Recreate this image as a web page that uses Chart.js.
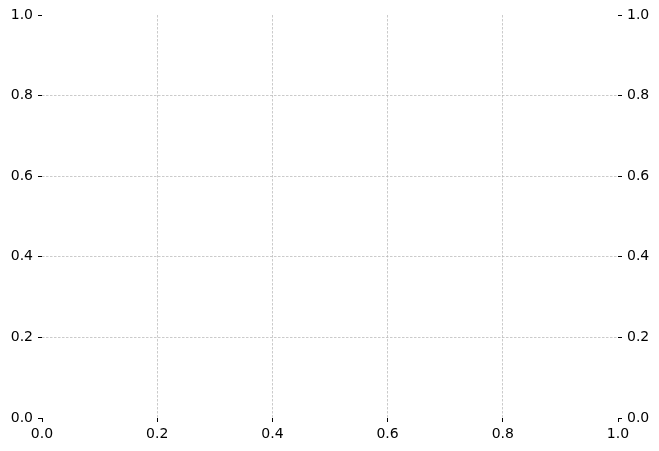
<!DOCTYPE html>
<html>
<head>
<meta charset="utf-8">
<script src="https://cdn.jsdelivr.net/npm/chart.js@4/dist/chart.umd.min.js"></script>
<style>
  html, body { margin: 0; padding: 0; background: #fff; }
  #wrap { width: 659px; height: 451px; }
</style>
</head>
<body>
<div id="wrap"><canvas id="plot" width="659" height="451"></canvas></div>
<script>
// axis ranges and tick positions (empty plot, twin y axes)
const xTicks = [0, 0.2, 0.4, 0.6, 0.8, 1.0];
const yLeftTicks = [0, 0.2, 0.4, 0.6, 0.8, 1.0];
const yRightTicks = [0, 0.2, 0.4, 0.6, 0.8, 1.0];
const seriesValues = [];

const font = { family: "DejaVu Sans", size: 14 };

// hide grid lines at the edges of the axes, like matplotlib does here
function innerGrid(ctx) {
  const v = ctx.tick ? ctx.tick.value : null;
  if (v === 0 || v === 1) return "rgba(0,0,0,0)";
  return "#b4b4b4";
}

function fixedTicks(list) {
  return function (scale) {
    scale.ticks = list.map((v) => ({ value: v }));
  };
}

function makeAxis(position, list, size, withGrid) {
  return {
    type: "linear",
    position: position,
    min: 0,
    max: 1,
    afterBuildTicks: fixedTicks(list),
    afterFit: function (scale) {
      if (position === "bottom") scale.height = size;
      else scale.width = size;
    },
    // in v4 the grid line dash lives under border
    border: { display: false, dash: [2.5, 1.5] },
    grid: {
      drawOnChartArea: withGrid,
      color: innerGrid,
      lineWidth: 0.7,
      tickLength: 4,
      tickColor: "#000",
      tickWidth: 1,
      tickBorderDash: [],
    },
    ticks: {
      color: "#000",
      font: font,
      padding: position === "bottom" ? 4 : 5,
      maxRotation: 0,
      autoSkip: false,
      callback: (v) => Number(v).toFixed(1),
    },
  };
}

new Chart(document.getElementById("plot").getContext("2d"), {
  type: "scatter",
  data: {
    datasets: [
      { data: seriesValues, yAxisID: "y" },
      { data: [], yAxisID: "y2" },
    ],
  },
  options: {
    responsive: false,
    animation: false,
    layout: { padding: { top: 15, left: 0, right: 0, bottom: 0 } },
    plugins: { legend: { display: false }, tooltip: { enabled: false } },
    scales: {
      x: makeAxis("bottom", xTicks, 33, true),
      y: makeAxis("left", yLeftTicks, 42, true),
      y2: makeAxis("right", yRightTicks, 41, false),
    },
  },
});
</script>
</body>
</html>
